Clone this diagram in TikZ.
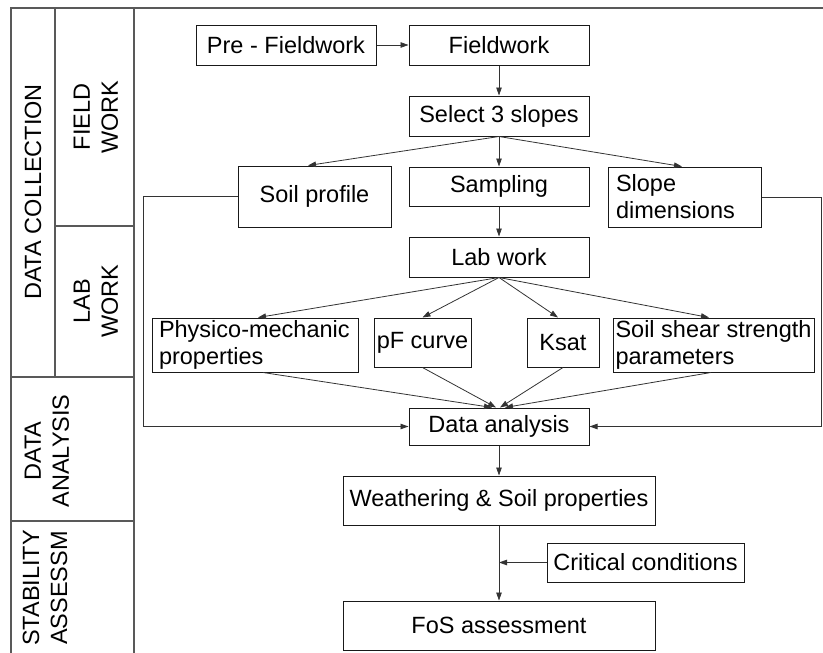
\documentclass[tikz,border=0pt]{standalone}
\usepackage{fontspec}
\setmainfont{Liberation Sans}
\usetikzlibrary{arrows.meta}
\newcommand\myfs{\fontsize{23.5}{27}\selectfont}
\begin{document}
\begin{tikzpicture}[x=1pt,y=-1pt,
  box/.style={draw=black!90, line width=1pt, inner sep=0pt, font=\myfs},
  arr/.style={draw=black!80, line width=0.8pt, -{Triangle[length=8pt,width=5.5pt]}},
  frame/.style={draw=black!65, line width=1.3pt},
  lbl/.style={font=\fontsize{23.5}{28}\selectfont, rotate=90, align=center, inner sep=0pt}]
\useasboundingbox (0,0) rectangle (823,653);
% frame
\draw[frame] (823,8) -- (11,8) -- (11,653);
\draw[frame] (134,8) -- (134,653);
\draw[frame] (55,8) -- (55,377);
\draw[frame] (55,226) -- (134,226);
\draw[frame] (11,377) -- (134,377);
\draw[frame] (11,521) -- (134,521);
% side labels
\node[lbl] (dc) at (33,192) {DATA COLLECTION};
\node[lbl] (fw) at (96,117) {FIELD\\WORK};
\node[lbl] (lw) at (96,301) {LAB\\WORK};
\node[lbl] (da) at (47,451) {DATA\\ANALYSIS};
\node[lbl] (sa) at (45,588) {STABILITY\\ASSESSM};
% boxes
\node[box, minimum width=180pt, minimum height=40pt] (pre) at (286,45) {Pre - Fieldwork};
\node[box, minimum width=180pt, minimum height=40pt] (field) at (499,45) {Fieldwork};
\node[box, minimum width=180pt, minimum height=40pt] (sel) at (499,116) {Select 3 slopes};
\node[box, minimum width=153pt, minimum height=61pt] (soil) at (314.5,196.5) {Soil profile};
\node[box, minimum width=180pt, minimum height=39pt] (samp) at (499,186.5) {Sampling};
\node[box, text width=137pt, inner xsep=8pt, align=left, minimum height=60pt] (slope) at (684.5,197) {Slope\\dimensions};
\node[box, minimum width=180pt, minimum height=40pt] (lab) at (499,257) {Lab work};
\node[box, text width=192pt, inner xsep=7pt, align=left, minimum height=54pt] (phys) at (255,345) {Physico-mechanic\\properties};
\node[box, minimum width=97pt, minimum height=49pt] (pf) at (422.5,342.5) {pF curve};
\node[box, minimum width=72pt, minimum height=49pt] (ksat) at (563,342.5) {Ksat};
\node[box, align=left, minimum width=201pt, minimum height=54pt] (shear) at (713.5,345) {Soil shear strength\\parameters};
\node[box, minimum width=180pt, minimum height=37pt] (data) at (499,426.5) {Data analysis};
\node[box, minimum width=312pt, minimum height=49pt] (weath) at (499,500.5) {Weathering \& Soil properties};
\node[box, minimum width=197pt, minimum height=39pt] (crit) at (645.5,562.5) {Critical conditions};
\node[box, minimum width=312pt, minimum height=49pt] (fos) at (499,625.5) {FoS assessment};
% connectors
\draw[arr] (pre) -- (field);
\draw[arr] (field) -- (sel);
\draw[arr] (sel.south) -- ([xshift=-6.5pt]soil.north);
\draw[arr] (sel) -- (samp);
\draw[arr] (sel.south) -- ([xshift=-2.5pt]slope.north);
\draw[arr] (samp) -- (lab);
\draw[arr] (soil.west) -- (143,196.5) |- (data.west);
\draw[arr] (slope.east) -- (821.5,197) |- (data.east);
\draw[arr] (lab.south) -- ([xshift=3pt]phys.north);
\draw[arr] (lab.south) -- (pf.north);
\draw[arr] (lab.south) -- ([xshift=-5pt]ksat.north);
\draw[arr] (lab.south) -- ([xshift=-4.5pt]shear.north);
\draw[arr] ([xshift=8pt]phys.south) -- ([xshift=-7pt]data.north);
\draw[arr] (pf.south) -- ([xshift=-3pt]data.north);
\draw[arr] (ksat.south) -- ([xshift=1pt]data.north);
\draw[arr] ([xshift=-2.5pt]shear.south) -- ([xshift=6pt]data.north);
\draw[arr] (data) -- (weath);
\draw[arr] (weath) -- (fos);
\coordinate (j) at (weath.south |- crit.west);
\draw[arr] (crit) -- (j);
\end{tikzpicture}
\end{document}
